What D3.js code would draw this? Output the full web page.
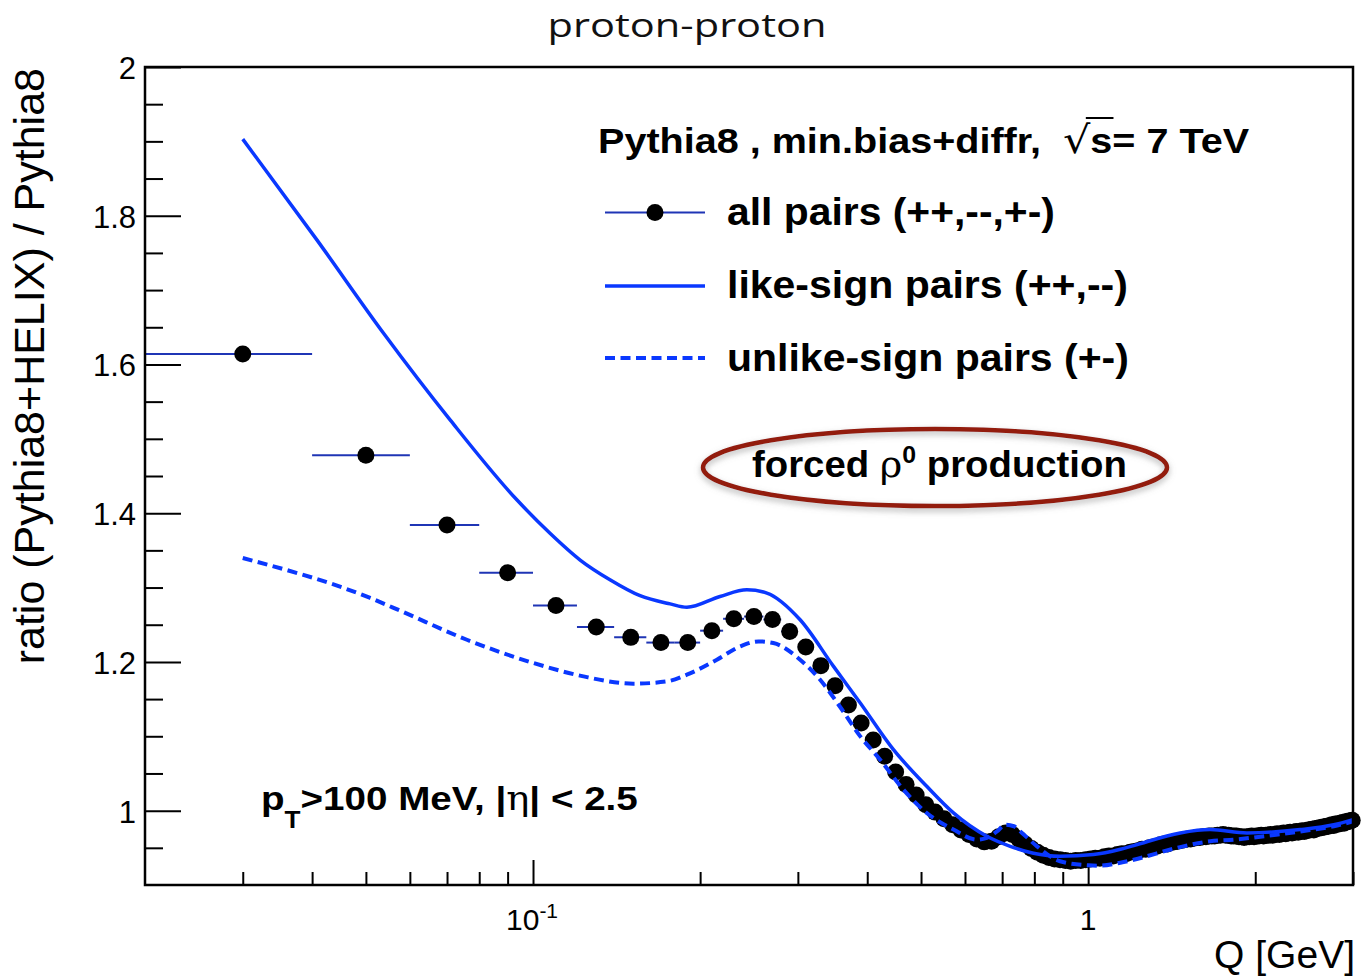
<!DOCTYPE html>
<html><head><meta charset="utf-8">
<script src="https://cdn.jsdelivr.net/npm/d3@7"></script>
<style>body{margin:0;background:#fff}svg{display:block}</style>
</head><body>
<svg id="c" width="1361" height="979"></svg>
<script>
// ---------------- data ----------------
const qCenters = [
0.03,0.05,0.07,0.09,0.11,0.13,0.15,0.17,0.19,0.21,
0.23,0.25,0.27,0.29,0.31,0.33,0.35,0.37,0.39,0.41,
0.43,0.45,0.47,0.49,0.51,0.53,0.55,0.57,0.59,0.61,
0.63,0.65,0.67,0.69,0.71,0.73,0.75,0.77,0.79,0.81,
0.83,0.85,0.87,0.89,0.91,0.93,0.95,0.97,0.99,1.01,
1.03,1.05,1.07,1.09,1.11,1.13,1.15,1.17,1.19,1.21,
1.23,1.25,1.27,1.29,1.31,1.33,1.35,1.37,1.39,1.41,
1.43,1.45,1.47,1.49,1.51,1.53,1.55,1.57,1.59,1.61,
1.63,1.65,1.67,1.69,1.71,1.73,1.75,1.77,1.79,1.81,
1.83,1.85,1.87,1.89,1.91,1.93,1.95,1.97,1.99,2.01,
2.03,2.05,2.07,2.09,2.11,2.13,2.15,2.17,2.19,2.21,
2.23,2.25,2.27,2.29,2.31,2.33,2.35,2.37,2.39,2.41,
2.43,2.45,2.47,2.49,2.51,2.53,2.55,2.57,2.59,2.61,
2.63,2.65,2.67,2.69,2.71,2.73,2.75,2.77,2.79,2.81,
2.83,2.85,2.87,2.89,2.91,2.93,2.95,2.97,2.99];
const ratioAll = [
1.614,1.478,1.384,1.320,1.276,1.247,1.233,1.226,1.226,1.242,
1.258,1.261,1.257,1.241,1.220,1.195,1.168,1.142,1.118,1.095,
1.073,1.052,1.035,1.021,1.008,0.998,0.989,0.981,0.974,0.968,
0.962,0.958,0.959,0.965,0.970,0.968,0.962,0.955,0.949,0.944,
0.940,0.937,0.935,0.934,0.933,0.932,0.933,0.933,0.934,0.935,
0.936,0.936,0.938,0.939,0.939,0.941,0.942,0.942,0.944,0.945,
0.946,0.948,0.948,0.950,0.951,0.952,0.954,0.955,0.955,0.957,
0.958,0.959,0.960,0.961,0.962,0.962,0.963,0.964,0.964,0.965,
0.965,0.966,0.966,0.966,0.967,0.967,0.968,0.967,0.967,0.966,
0.966,0.966,0.965,0.965,0.964,0.965,0.965,0.966,0.965,0.966,
0.966,0.967,0.966,0.967,0.967,0.968,0.967,0.968,0.969,0.968,
0.969,0.970,0.969,0.970,0.971,0.970,0.971,0.972,0.971,0.972,
0.973,0.972,0.973,0.974,0.974,0.975,0.974,0.976,0.976,0.977,
0.977,0.978,0.978,0.979,0.979,0.980,0.981,0.980,0.982,0.982,
0.982,0.983,0.984,0.983,0.985,0.985,0.986,0.986,0.987];
const qHalfBin = 0.01;

const likeQ = [0.03,0.0408,0.0538,0.0709,0.0935,0.1073,0.1216,0.1376,0.1559,0.1766,0.1893,0.2172,0.2428,0.2638,0.3028,0.3478,0.3886,0.446,0.512,0.572,0.657,0.724,0.797,0.890,1.022,1.143,1.208,1.465,1.659,1.932,2.41,2.77,3.0];
const likeRatio = [1.903,1.7675,1.642,1.5255,1.418,1.373,1.337,1.3105,1.289,1.278,1.2735,1.288,1.297,1.2926,1.2567,1.194,1.1448,1.082,1.0327,0.9969,0.9655,0.952,0.9427,0.9386,0.9409,0.948,0.953,0.970,0.9745,0.970,0.9745,0.981,0.988];

const unlikeQ = [0.03,0.0509,0.0576,0.076,0.1002,0.1233,0.1516,0.1742,0.1893,0.2144,0.236,0.2548,0.271,0.3028,0.329,0.357,0.3886,0.422,0.465,0.512,0.572,0.630,0.657,0.685,0.709,0.735,0.760,0.809,0.890,1.002,1.05,1.143,1.208,1.465,1.659,1.83,2.18,2.41,2.77,3.0];
const unlikeRatio = [1.3397,1.286,1.269,1.2298,1.1985,1.1805,1.1707,1.1738,1.1828,1.203,1.2208,1.2276,1.2254,1.203,1.176,1.140,1.0999,1.0685,1.028,0.9969,0.9745,0.961,0.9635,0.972,0.981,0.979,0.970,0.952,0.9319,0.9265,0.926,0.930,0.934,0.951,0.9588,0.961,0.9677,0.972,0.979,0.9856];

const yMajorTicks = [1,1.2,1.4,1.6,1.8,2];
const yTickLabels = ["1","1.2","1.4","1.6","1.8","2"];
const yMinorTicks = [0.95,1.05,1.1,1.15,1.25,1.3,1.35,1.45,1.5,1.55,1.65,1.7,1.75,1.85,1.9,1.95];
const xMajorTicks = [0.1,1];
const xMinorTicks = [0.03,0.04,0.05,0.06,0.07,0.08,0.09,0.2,0.3,0.4,0.5,0.6,0.7,0.8,0.9,2,3];
const xLabelBase = ["10","1"];
const xLabelExp = ["-1",""];

const legendLabels = ["all pairs (++,--,+-)","like-sign pairs (++,--)","unlike-sign pairs (+-)"];

// ---------------- drawing ----------------
const BLUE = "#0a38ff", BAR = "#1f35b5";
const svg = d3.select("#c");
const x = d3.scaleLog().domain([0.02,3]).range([145,1353]);
const y = d3.scaleLinear().domain([0.9,2]).range([885,67]);
const HEL = "'Liberation Sans', Arial, Helvetica, sans-serif";

function styleAxis(g){
  g.select(".domain").remove();
  g.selectAll(".tick line").attr("stroke","#000").attr("stroke-width",2);
  g.attr("font-family",HEL).attr("font-size",31);
  g.selectAll("text").attr("fill","#000");
}
svg.append("g").attr("transform","translate(145,0)")
  .call(d3.axisLeft(y).tickValues(yMinorTicks).tickSize(-18).tickFormat(""))
  .call(styleAxis);
svg.append("g").attr("transform","translate(145,0)")
  .call(d3.axisLeft(y).tickValues(yMajorTicks).tickSize(-36).tickPadding(9)
        .tickFormat((d,i)=>yTickLabels[i]))
  .call(styleAxis)
  .selectAll("text").attr("dy","0.37em");
svg.append("g").attr("transform","translate(0,885)")
  .call(d3.axisBottom(x).tickValues(xMinorTicks).tickSize(-13).tickFormat(""))
  .call(styleAxis);
svg.append("g").attr("transform","translate(0,885)")
  .call(d3.axisBottom(x).tickValues(xMajorTicks).tickSize(-25).tickFormat(""))
  .call(styleAxis);
xMajorTicks.forEach((v,i)=>{
  const t = svg.append("text").attr("font-family",HEL).attr("font-size",30)
    .attr("y",930).attr("fill","#000");
  t.append("tspan").text(xLabelBase[i]);
  if(xLabelExp[i]) t.append("tspan").attr("font-size",21).attr("dy",-12).text(xLabelExp[i]);
  const w = t.node().getBBox().width;
  t.attr("x", xLabelExp[i] ? x(v) - 27 : x(v) - w/2);
});

// data points
const pts = d3.zip(qCenters, ratioAll);
svg.append("g").selectAll("line").data(pts).join("line")
  .attr("x1",d=>x(d[0]-qHalfBin)).attr("x2",d=>x(d[0]+qHalfBin))
  .attr("y1",d=>y(d[1])).attr("y2",d=>y(d[1]))
  .attr("stroke",BAR).attr("stroke-width",2);
svg.append("g").selectAll("circle").data(pts).join("circle")
  .attr("cx",d=>x(d[0])).attr("cy",d=>y(d[1])).attr("r",8.5).attr("fill","#000");

// curves
const line = d3.line().x(d=>x(d[0])).y(d=>y(d[1])).curve(d3.curveMonotoneX);
svg.append("path").datum(d3.zip(likeQ,likeRatio)).attr("d",line)
  .attr("fill","none").attr("stroke",BLUE).attr("stroke-width",3.5);
svg.append("path").datum(d3.zip(unlikeQ,unlikeRatio)).attr("d",line)
  .attr("fill","none").attr("stroke",BLUE).attr("stroke-width",4).attr("stroke-dasharray","10,5.5");

// frame
svg.append("rect").attr("x",145).attr("y",67).attr("width",1208).attr("height",818)
  .attr("fill","none").attr("stroke","#000").attr("stroke-width",2.5);

function fitGroup(g, text, x0, y0, width){
  const bb = text.node().getBBox();
  g.attr("transform",`translate(${x0},${y0}) scale(${width/bb.width},1)`);
}

// title
{
  const g = svg.append("g");
  const t = g.append("text").attr("font-family","'Open Sans', sans-serif").attr("font-size",32)
    .attr("text-anchor","middle").attr("fill","#111").text("proton-proton");
  fitGroup(g,t,687,37,279);
}
svg.append("text").attr("transform","translate(44,68) rotate(-90)")
  .attr("text-anchor","end").attr("font-family",HEL).attr("font-size",43).attr("fill","#000")
  .text("ratio (Pythia8+HELIX) / Pythia8");
svg.append("text").attr("x",1355).attr("y",968).attr("text-anchor","end")
  .attr("font-family",HEL).attr("font-size",39).attr("fill","#000").text("Q [GeV]");

// legend header
{
  const g = svg.append("g");
  const t = g.append("text").attr("font-family",HEL).attr("font-weight","bold").attr("font-size",35)
    .attr("fill","#000").style("white-space","pre");
  const p1 = "Pythia8 , min.bias+diffr,  ";
  t.append("tspan").text(p1);
  t.append("tspan").attr("font-weight","normal").attr("font-family","'DejaVu Sans', sans-serif").attr("font-size",38).text("\u221A");
  t.append("tspan").text("s");
  t.append("tspan").text("= 7 TeV");
  fitGroup(g,t,598,153,652);
  const eR = t.node().getExtentOfChar(p1.length);
  const eS = t.node().getExtentOfChar(p1.length+1);
  g.append("line").attr("x1",eR.x+eR.width-4).attr("x2",eS.x+eS.width+1)
    .attr("y1",-35).attr("y2",-35).attr("stroke","#000").attr("stroke-width",2);
}
// legend entries
const legY = [212.5, 286, 358];
const legBase = [225, 298, 371];
const legW = [328, 401, 402];
legendLabels.forEach((lab,i)=>{
  const ly = legY[i];
  if(i===0){
    svg.append("line").attr("x1",605).attr("x2",705).attr("y1",ly).attr("y2",ly)
      .attr("stroke",BAR).attr("stroke-width",2);
    svg.append("circle").attr("cx",655).attr("cy",ly).attr("r",8.5).attr("fill","#000");
  } else {
    svg.append("line").attr("x1",605).attr("x2",705).attr("y1",ly).attr("y2",ly)
      .attr("stroke",BLUE).attr("stroke-width",i===1?3.5:4)
      .attr("stroke-dasharray",i===2?"10,5.5":null);
  }
  const g = svg.append("g");
  const t = g.append("text").attr("font-family",HEL).attr("font-weight","bold").attr("font-size",38)
    .attr("fill","#000").text(lab);
  fitGroup(g,t,727,legBase[i],legW[i]);
});

// ellipse annotation
const defs = svg.append("defs");
const f = defs.append("filter").attr("id","sh").attr("x","-10%").attr("y","-40%").attr("width","120%").attr("height","180%");
f.append("feDropShadow").attr("dx",0).attr("dy",3).attr("stdDeviation",3)
  .attr("flood-color","#777").attr("flood-opacity",0.55);
svg.append("ellipse").attr("cx",935).attr("cy",467.5).attr("rx",232).attr("ry",38.5)
  .attr("fill","none").attr("stroke","#931a0e").attr("stroke-width",4.5).attr("filter","url(#sh)");
{
  const g = svg.append("g");
  const t = g.append("text").attr("font-family",HEL).attr("font-weight","bold").attr("font-size",37)
    .attr("fill","#000").style("white-space","pre");
  t.append("tspan").text("forced ");
  t.append("tspan").attr("font-weight","normal").attr("font-family","'DejaVu Serif', serif").text("\u03C1");
  t.append("tspan").attr("font-size",24).attr("dy",-14).text("0");
  t.append("tspan").attr("dy",14).text(" production");
  fitGroup(g,t,752,477,375);
}
{
  const g = svg.append("g");
  const t = g.append("text").attr("font-family",HEL).attr("font-weight","bold").attr("font-size",34)
    .attr("fill","#000").style("white-space","pre");
  t.append("tspan").text("p");
  t.append("tspan").attr("font-size",23).attr("dy",18).text("T");
  t.append("tspan").attr("dy",-18).text(">100 MeV, |");
  t.append("tspan").attr("font-weight","normal").attr("font-family","'DejaVu Serif', serif").text("\u03B7");
  t.append("tspan").text("| < 2.5");
  fitGroup(g,t,261,810,377);
}
</script>
</body></html>
